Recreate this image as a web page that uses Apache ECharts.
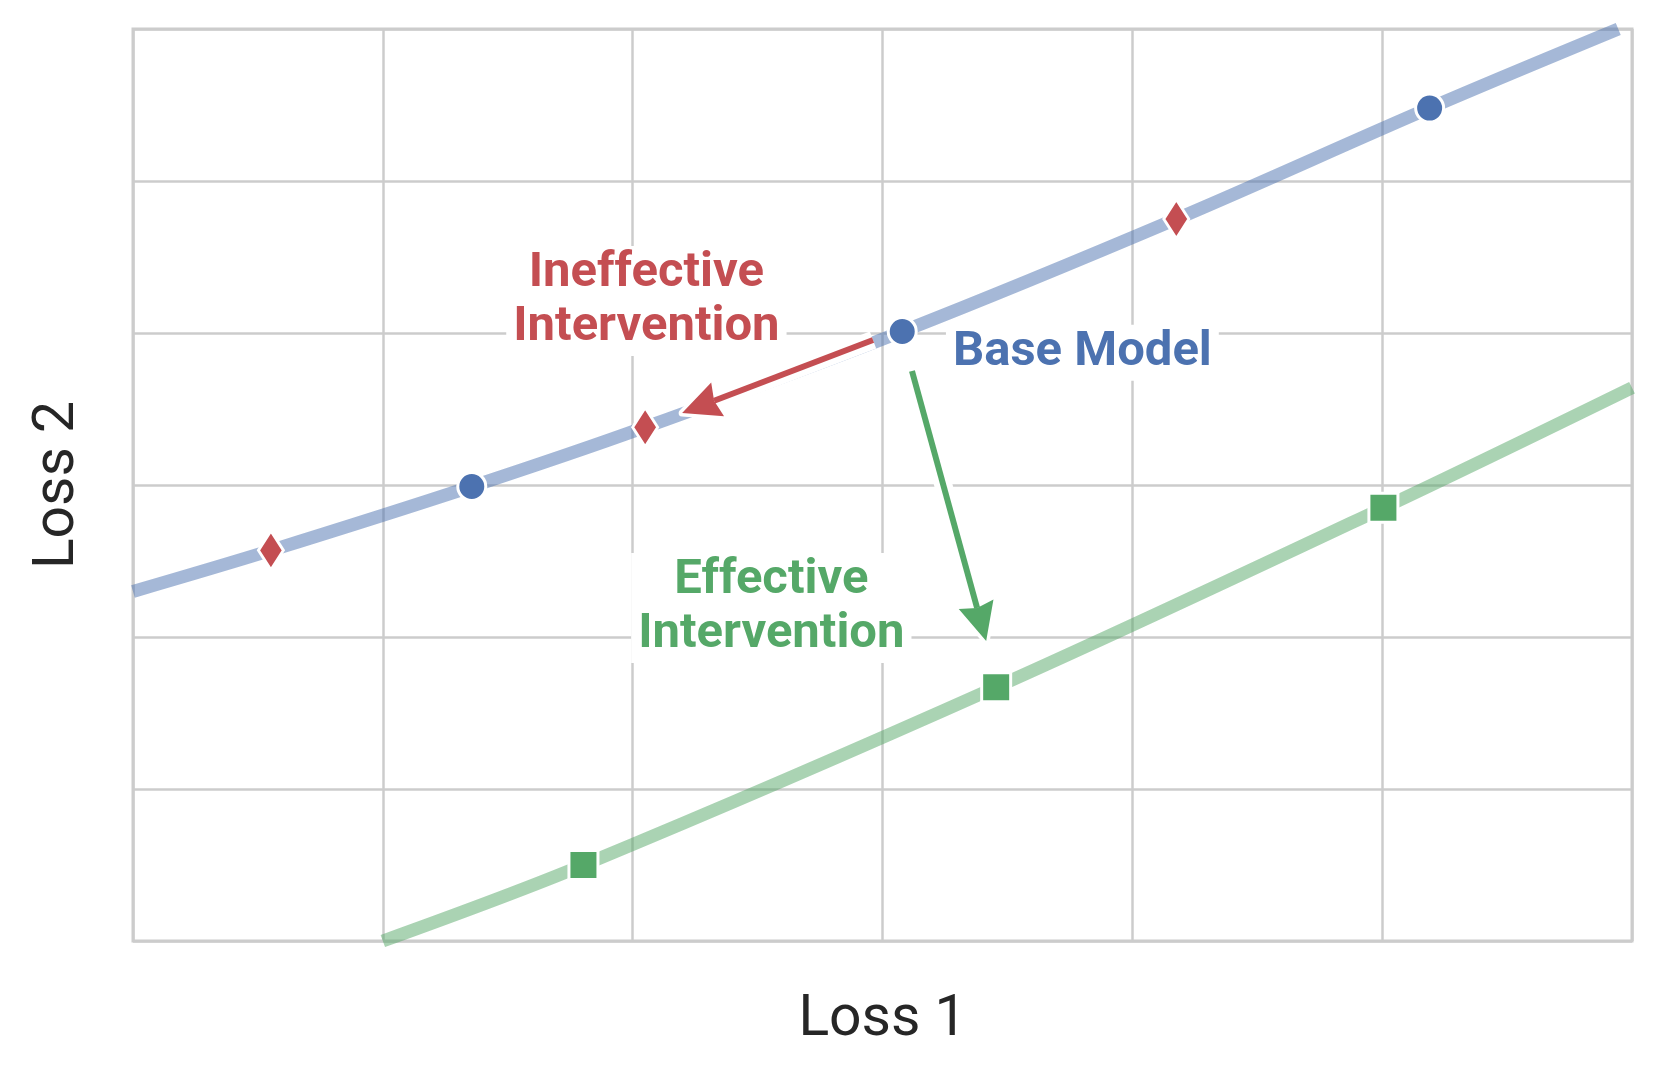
<!DOCTYPE html>
<html>
<head>
<meta charset="utf-8">
<script src="https://cdn.jsdelivr.net/npm/echarts@6/dist/echarts.min.js"></script>
<style>
html,body{margin:0;padding:0;background:#fff;}
#chart{width:1661px;height:1076px;}
</style>
</head>
<body>
<div id="chart"></div>
<script>
// ---- data (axis units) ----
const baseCurve = [[0,2.30],[0.552,2.57],[1.356,2.99],[2.05,3.38],[3.079,4.01],[4.176,4.75],[5.19,5.48],[5.945,6.0]];
const effCurve = [[1.0,0.0],[1.803,0.50],[3.455,1.67],[5.005,2.85],[6.0,3.64]];
const basePoints = [[1.356,2.99],[3.079,4.01],[5.19,5.48]];
const ineffPoints = [[0.552,2.57],[2.05,3.38],[4.176,4.75]];
const effPoints = [[1.803,0.50],[3.455,1.67],[5.005,2.85]];
const ineffArrow = [2.962,3.954,2.198,3.474];
const effArrow = [3.118,3.75,3.415,1.974];
const labelBase = {text:'Base Model', pos:[3.80,3.87]};
const labelIneff = {text:'Ineffective\nIntervention', pos:[2.055,4.21]};
const labelEff = {text:'Effective\nIntervention', pos:[2.555,2.19]};
const axisNames = ['Loss 1','Loss 2'];

const BLUE='#4C72B0', RED='#C44E52', GREEN='#55A868';
const FONT='Roboto';

function labelSeries(lab, color){
  return {
    type:'scatter', z:6, symbolSize:0, silent:true,
    itemStyle:{opacity:1},
    data:[lab.pos],
    label:{show:true, position:'inside', formatter:lab.text, color:color, opacity:1,
      fontFamily:FONT, fontWeight:'bold', fontSize:49, lineHeight:54,
      align:'center', verticalAlign:'middle',
      backgroundColor:'#fff', padding:[2,7,0,7]}
  };
}

function renderArrow(params, api){
  const p1 = api.coord([api.value(0), api.value(1)]);
  const p2 = api.coord([api.value(2), api.value(3)]);
  const color = api.visual('color');
  let dx = p2[0]-p1[0], dy = p2[1]-p1[1];
  const len = Math.sqrt(dx*dx+dy*dy);
  dx/=len; dy/=len;
  const nx = -dy, ny = dx;
  const L = 38, W = 18;
  const bx = p2[0]-dx*L, by = p2[1]-dy*L;
  const mx = p2[0]-dx*L*0.9, my = p2[1]-dy*L*0.9;
  const head = [[p2[0],p2[1]],[bx+nx*W,by+ny*W],[mx,my],[bx-nx*W,by-ny*W]];
  return {
    type:'group',
    children:[
      {type:'line', shape:{x1:p1[0],y1:p1[1],x2:mx,y2:my}, style:{stroke:'#fff', lineWidth:18}},
      {type:'polygon', shape:{points:head}, style:{fill:'#fff', stroke:'#fff', lineWidth:7, lineJoin:'round'}},
      {type:'line', shape:{x1:p1[0],y1:p1[1],x2:mx,y2:my}, style:{stroke:color, lineWidth:6}},
      {type:'polygon', shape:{points:head}, style:{fill:color}}
    ]
  };
}

const chart = echarts.init(document.getElementById('chart'), null, {renderer:'canvas'});
chart.setOption({
  animation:false,
  backgroundColor:'#fff',
  grid:{left:133, right:29, top:29, bottom:135, show:true, borderColor:'#cccccc', borderWidth:3, backgroundColor:'transparent'},
  xAxis:{type:'value', min:0, max:6, interval:1,
    name:axisNames[0], nameLocation:'middle', nameGap:51,
    nameTextStyle:{fontFamily:FONT, fontSize:57, color:'#262626'},
    axisLabel:{show:false}, axisTick:{show:false},
    axisLine:{show:false},
    splitLine:{show:true, lineStyle:{color:'#cccccc', width:2.5}}},
  yAxis:{type:'value', min:0, max:6, interval:1,
    name:axisNames[1], nameLocation:'middle', nameGap:46, nameRotate:90,
    nameTextStyle:{fontFamily:FONT, fontSize:57, color:'#262626'},
    axisLabel:{show:false}, axisTick:{show:false},
    axisLine:{show:false},
    splitLine:{show:true, lineStyle:{color:'#cccccc', width:2.5}}},
  series:[
    {type:'line', z:2, data:baseCurve, smooth:0.35, showSymbol:false, silent:true,
      lineStyle:{color:BLUE, width:13, opacity:0.5}},
    {type:'line', z:2, data:effCurve, smooth:0.35, showSymbol:false, silent:true,
      lineStyle:{color:GREEN, width:13, opacity:0.5}},
    {type:'scatter', z:3, data:basePoints, symbol:'circle', symbolSize:28,
      itemStyle:{color:BLUE, opacity:1, borderColor:'#fff', borderWidth:3}},
    {type:'scatter', z:3, data:ineffPoints, symbol:'diamond', symbolSize:[25,39],
      itemStyle:{color:RED, opacity:1, borderColor:'#fff', borderWidth:3}},
    {type:'scatter', z:3, data:effPoints, symbol:'rect', symbolSize:29,
      itemStyle:{color:GREEN, opacity:1, borderColor:'#fff', borderWidth:3}},
    {type:'custom', z:4, silent:true, renderItem:renderArrow,
      encode:{x:[0,2], y:[1,3]},
      data:[
        {value:ineffArrow, itemStyle:{color:RED}},
        {value:effArrow, itemStyle:{color:GREEN}}
      ]},
    labelSeries(labelBase, BLUE),
    labelSeries(labelIneff, RED),
    labelSeries(labelEff, GREEN)
  ]
});
</script>
</body>
</html>
